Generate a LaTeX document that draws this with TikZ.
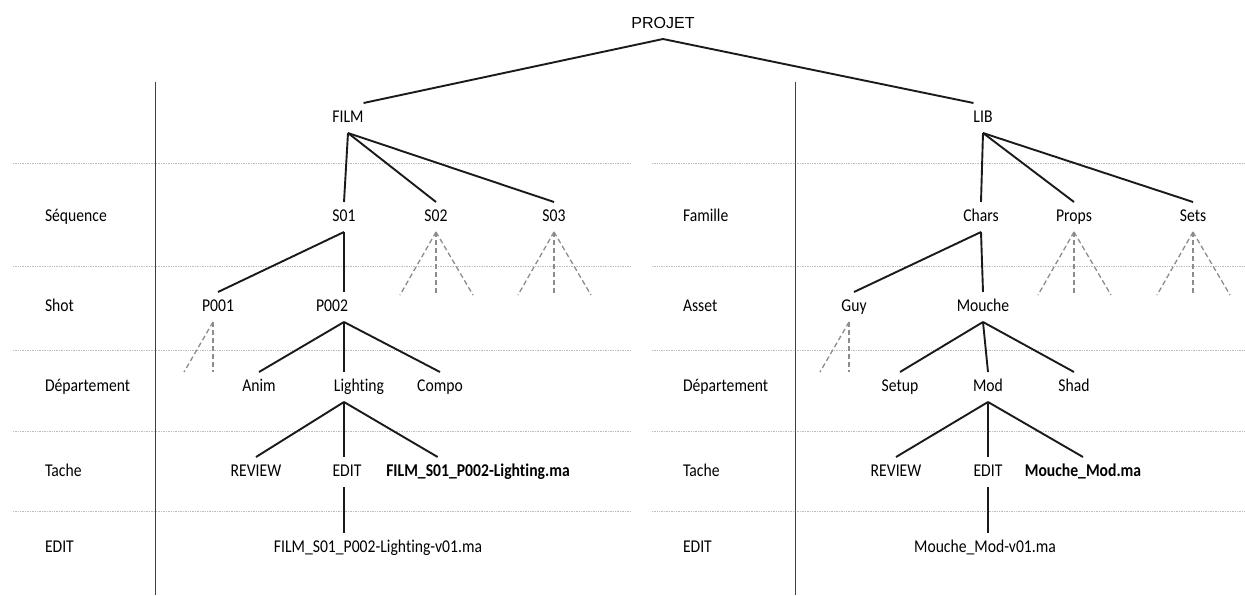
\documentclass[tikz,border=0pt]{standalone}
\usepackage{fontspec}
\setmainfont{Carlito}[FakeStretch=0.87, Ligatures=NoCommon]
\newfontfamily\titlefont{Liberation Sans}
\usetikzlibrary{calc}
\definecolor{pjline}{HTML}{1A1A1A}
\definecolor{pjdash}{HTML}{8C8C8C}
\definecolor{pjrule}{HTML}{BDBDBD}
\definecolor{pjaxis}{HTML}{404040}

\begin{document}
\begin{tikzpicture}[
  x=1pt, y=-1pt,
  item/.style={font=\fontsize{18}{21}\selectfont, inner sep=0pt,
               text height=12pt, text depth=4pt, outer xsep=0pt, outer ysep=7pt},
  file/.style={item, font=\fontsize{18}{21}\selectfont\bfseries},
  level/.style={item, anchor=west},
  link/.style={pjline, line width=1.9pt},
  stub/.style={pjdash, line width=1.3pt, dash pattern=on 5pt off 3pt},
  rule/.style={pjrule, line width=0.7pt, densely dotted},
  axis/.style={pjaxis, line width=1pt},
]
\useasboundingbox (0,0) rectangle (1245,595);

%% Lignes de niveaux
\foreach \y in {163,266,350,431,511} {
  \draw[rule] (13,\y) -- (631,\y);
  \draw[rule] (652,\y) -- (1245,\y);
}

%% Axes verticaux
\draw[axis] (155,82) -- (155,595);
\draw[axis] (795,82) -- (795,595);

%% Niveaux FILM
\node[level] (seqrow)   at (45,217) {Séquence};
\node[level] (shotrow)  at (45,307) {Shot};
\node[level] (deprow)   at (45,387) {Département};
\node[level] (tacherow) at (45,472) {Tache};
\node[level] (editrow)  at (45,548) {EDIT};

%% Niveaux LIB
\node[level] (famrow)    at (683,217) {Famille};
\node[level] (assetrow)  at (683,307) {Asset};
\node[level] (deprowb)   at (683,387) {Département};
\node[level] (tacherowb) at (683,472) {Tache};
\node[level] (editrowb)  at (683,548) {EDIT};

%% Racine
\node[item, font=\fontsize{16}{19}\titlefont] (projet) at (663,24) {PROJET};
\node[item] (film) at (348,118) {FILM};
\node[item] (lib)  at (983,118) {LIB};
\draw[link] (film.north east) -- (projet.south) -- (lib.north west);

%% Arbre FILM
\node[item] (s01) at (344,217) {S01};
\node[item] (s02) at (436,217) {S02};
\node[item] (s03) at (554,217) {S03};
\node[item] (p001) at (218,307) {P001};
\node[item] (p002) at (332,307) {P002};
\node[item] (anim)     at (259,387) {Anim};
\node[item] (lighting) at (359,387) {Lighting};
\node[item] (compo)    at (440,387) {Compo};
\node[item] (freview) at (256,472) {REVIEW};
\node[item] (fedit)   at (347,472) {EDIT};
\node[file] (ffile)   at (478,472) {FILM\_S01\_P002-Lighting.ma};
\node[item] (fversion) at (378,548) {FILM\_S01\_P002-Lighting-v01.ma};

\draw[link] (film.south) -- (s01.north);
\draw[link] (film.south) -- (s02.north);
\draw[link] (film.south) -- (s03.north);
\draw[link] (s01.south) -- (p001.north);
\draw[link] (s01.south) -- (s01.south |- p002.north);
\draw[link] (p002.south -| s01.south) -- (anim.north);
\draw[link] (p002.south -| s01.south) -- (lighting.north -| s01.south);
\draw[link] (p002.south -| s01.south) -- (compo.north);
\draw[link] (lighting.south -| s01.south) -- (freview.north);
\draw[link] (lighting.south -| s01.south) -- (fedit.north -| s01.south);
\draw[link] (lighting.south -| s01.south) -- ($(ffile.north west)!.28!(ffile.north east)$);
\draw[link] (fedit.south -| s01.south) -- (fversion.north -| s01.south);

%% Arbre LIB
\node[item] (chars) at (981,217) {Chars};
\node[item] (props) at (1074,217) {Props};
\node[item] (sets)  at (1193,217) {Sets};
\node[item] (guy)    at (854,307) {Guy};
\node[item] (mouche) at (983,307) {Mouche};
\node[item] (setup) at (900,387) {Setup};
\node[item] (mod)   at (988,387) {Mod};
\node[item] (shad)  at (1074,387) {Shad};
\node[item] (lreview) at (896,472) {REVIEW};
\node[item] (ledit)   at (988,472) {EDIT};
\node[file] (lfile)   at (1083,472) {Mouche\_Mod.ma};
\node[item] (lversion) at (985,548) {Mouche\_Mod-v01.ma};

\draw[link] (lib.south) -- (chars.north);
\draw[link] (lib.south) -- (props.north);
\draw[link] (lib.south) -- (sets.north);
\draw[link] (chars.south) -- (guy.north);
\draw[link] (chars.south) -- (mouche.north);
\draw[link] (mouche.south) -- (setup.north);
\draw[link] (mouche.south) -- (mod.north);
\draw[link] (mouche.south) -- (shad.north);
\draw[link] (mod.south) -- (lreview.north);
\draw[link] (mod.south) -- (ledit.north);
\draw[link] (mod.south) -- (lfile.north);
\draw[link] (ledit.south) -- (ledit.south |- lversion.north);

%% Branches non developpees
\foreach \n in {s02,s03,props,sets} {
  \draw[stub] (\n.south) -- ++(-36,63);
  \draw[stub] (\n.south) -- ++(0,63);
  \draw[stub] (\n.south) -- ++(37,63);
}
\foreach \n in {p001,guy} {
  \draw[stub] ([xshift=-5pt]\n.south) -- ++(-29,50);
  \draw[stub] ([xshift=-5pt]\n.south) -- ++(0,50);
}

\end{tikzpicture}
\end{document}
